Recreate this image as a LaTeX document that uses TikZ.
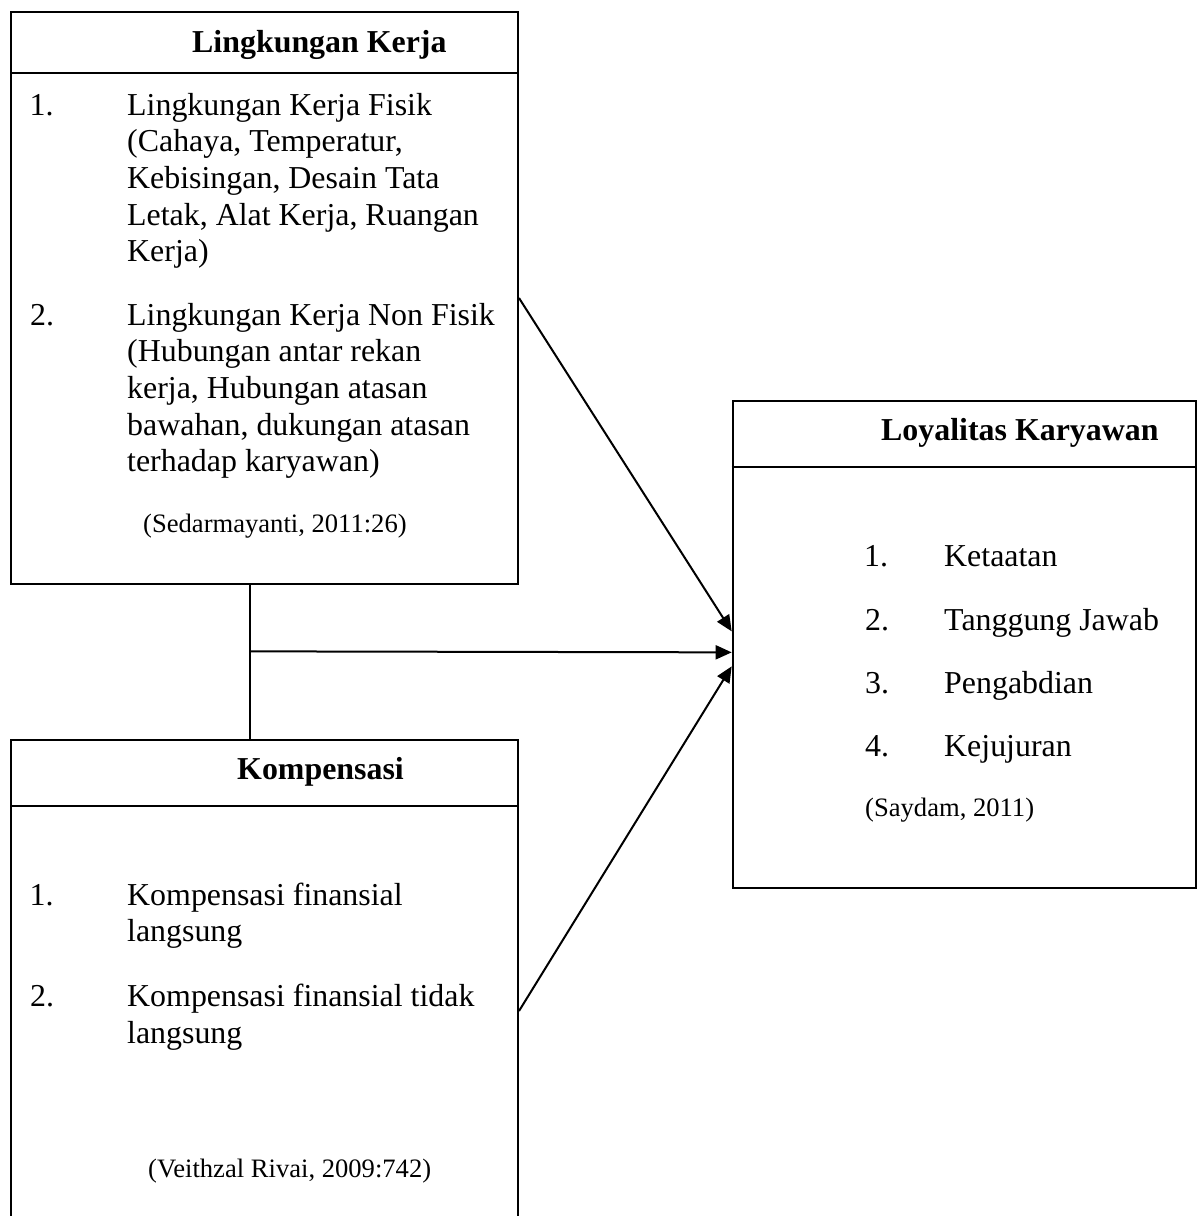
\documentclass[tikz,border=0pt]{standalone}
\usepackage{fontspec}
\setmainfont{Liberation Serif}
\usetikzlibrary{arrows.meta}
\begin{document}
\begin{tikzpicture}[x=1pt,y=-1pt,
  box/.style={draw, line width=2pt, minimum width=507pt, anchor=north west, inner sep=0pt},
  txt/.style={anchor=base west, inner sep=0pt, font=\fontsize{31.9}{36.7}\selectfont},
  hdr/.style={anchor=base west, inner sep=0pt, font=\fontsize{31.9}{36.7}\selectfont\bfseries},
  src/.style={anchor=base west, inner sep=0pt, font=\fontsize{26.6}{30}\selectfont},
  conn/.style={line width=2pt},
  arr/.style={conn, -{Triangle[length=16pt,width=14pt]}}]
\useasboundingbox (0,0) rectangle (1198,1216);
\clip (0,0) rectangle (1198,1216);
% boxes
\node[box, minimum height=572pt] (lk) at (10,11) {};
\node[box, minimum height=542pt] (komp) at (10,739) {};
\node[box, minimum width=463.3pt, minimum height=486.7pt] (loy) at (731.7,400) {};
% header separators
\draw[conn] ([yshift=-62]lk.north west) -- ([yshift=-62]lk.north east);
\draw[conn] ([yshift=-67]komp.north west) -- ([yshift=-67]komp.north east);
\draw[conn] ([yshift=-66.7]loy.north west) -- ([yshift=-66.7]loy.north east);
% box 1 text
\node[hdr] (h1) at (192,52.5) {Lingkungan Kerja};
\node[txt] (n11) at (29.5,115) {1.};
\node[txt] (t11a) at (127,115) {Lingkungan Kerja Fisik};
\node[txt] (t11b) at (127,151.7) {(Cahaya, Temperatur,};
\node[txt] (t11c) at (127,188.4) {Kebisingan, Desain Tata};
\node[txt] (t11d) at (127,225.1) {Letak, Alat Kerja, Ruangan};
\node[txt] (t11e) at (127,261.8) {Kerja)};
\node[txt] (n12) at (30,325) {2.};
\node[txt] (t12a) at (127,325) {Lingkungan Kerja Non Fisik};
\node[txt] (t12b) at (127,361.7) {(Hubungan antar rekan};
\node[txt] (t12c) at (127,398.4) {kerja, Hubungan atasan};
\node[txt] (t12d) at (127,435.1) {bawahan, dukungan atasan};
\node[txt] (t12e) at (127,471.8) {terhadap karyawan)};
\node[src] (s1) at (143,532) {(Sedarmayanti, 2011:26)};
% box 2 text
\node[hdr] (h2) at (237,779) {Kompensasi};
\node[txt] (n21) at (29.5,905) {1.};
\node[txt] (t21a) at (127,905) {Kompensasi finansial};
\node[txt] (t21b) at (127,941.7) {langsung};
\node[txt] (n22) at (30,1006.7) {2.};
\node[txt] (t22a) at (127,1006.7) {Kompensasi finansial tidak};
\node[txt] (t22b) at (127,1043.4) {langsung};
\node[src] (s2) at (148,1177) {(Veithzal Rivai, 2009:742)};
% box 3 text
\node[hdr] (h3) at (881,440) {Loyalitas Karyawan};
\node[txt] (n31) at (864,566.7) {1.};
\node[txt] (t31) at (944,566.7) {Ketaatan};
\node[txt] (n32) at (865,630) {2.};
\node[txt] (t32) at (944,630) {Tanggung Jawab};
\node[txt] (n33) at (865,693.3) {3.};
\node[txt] (t33) at (944,693.3) {Pengabdian};
\node[txt] (n34) at (865,756.7) {4.};
\node[txt] (t34) at (944,756.7) {Kejujuran};
\node[src] (s3) at (865,816.7) {(Saydam, 2011)};
% connectors
\draw[arr] (lk.east) -- ([yshift=13]loy.west);
\draw[conn] ([xshift=-14.5]lk.south) -- ([xshift=-14.5]komp.north);
\coordinate (jn) at (249,651.35);
\draw[arr] (jn) -- ([yshift=-8]loy.west);
\draw[arr] (komp.east) -- ([yshift=-22]loy.west);
\end{tikzpicture}
\end{document}
